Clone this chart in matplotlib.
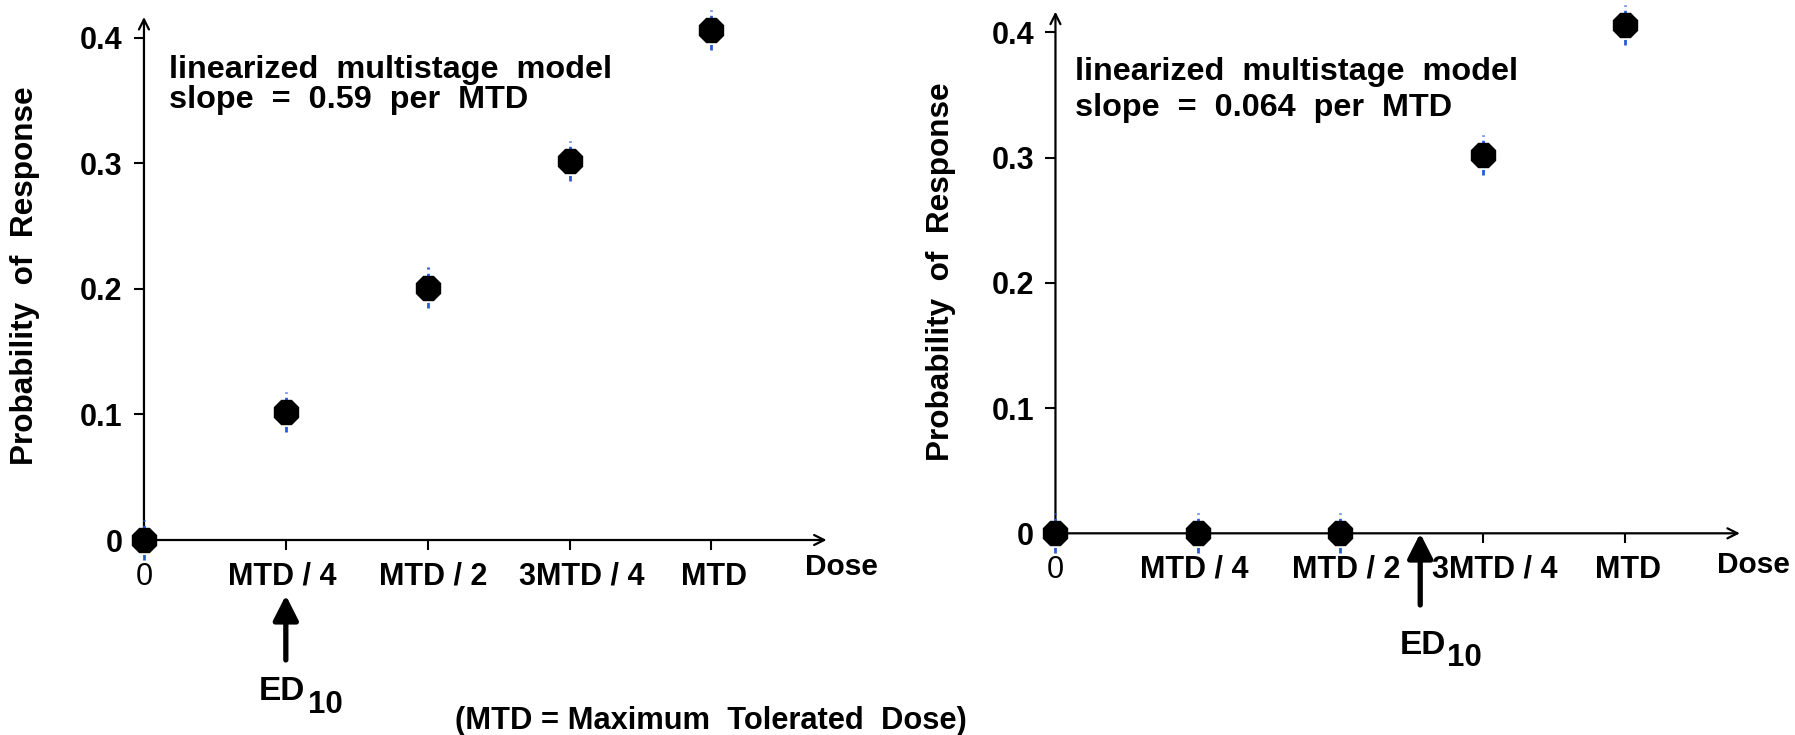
import numpy as np
import matplotlib
matplotlib.use("Agg")
from matplotlib import pyplot as plt

plt.rcParams['font.family'] = ['Liberation Sans', 'DejaVu Sans']

# data
dose = [0, 0.25, 0.5, 0.75, 1.0]
resp_left = [0.0, 0.102, 0.201, 0.302, 0.406]
resp_right = [0.0, 0.0, 0.0, 0.302, 0.406]
err = [0.016, 0.016, 0.016, 0.016, 0.016]
ed10_left = 0.25
ed10_right = 0.64

xtick_labels = ['0', 'MTD / 4', 'MTD / 2', '3MTD / 4', 'MTD']
# the dose labels are not exactly centred on their ticks (pixels)
xlabel_shift = [0, -4, 6, 12, 3]
yticks = [0, 0.1, 0.2, 0.3, 0.4]
ytick_labels = ['0', '0.1', '0.2', '0.3', '0.4']
notes_left = ['linearized  multistage  model', 'slope  =  0.59  per  MTD']
notes_right = ['linearized  multistage  model', 'slope  =  0.064  per  MTD']

W, H = 1795, 735
TICK_LEN, TICK_PAD = 7.5, 8


def px(x, y):
    return x / W, 1 - y / H


fig = plt.figure(figsize=(W / 100, H / 100), dpi=100)
ax1 = fig.add_axes([0.0802, 0.2653, 0.3803, 0.7116])
ax2 = fig.add_axes([0.5880, 0.2744, 0.3813, 0.7097])


def setup(ax, resp, xmax, ymax):
    ax.set_xlim(0, xmax)
    ax.set_ylim(0, ymax)
    for s in ax.spines.values():
        s.set_visible(False)
    # axis lines with open arrow heads
    ax.annotate('', xy=(1, 0), xytext=(0, 0), xycoords='axes fraction',
                arrowprops=dict(arrowstyle='->', lw=1.6, color='k',
                                mutation_scale=18, shrinkA=0, shrinkB=0))
    ax.annotate('', xy=(0, 1), xytext=(0, 0), xycoords='axes fraction',
                arrowprops=dict(arrowstyle='->', lw=1.6, color='k',
                                mutation_scale=18, shrinkA=0, shrinkB=0))
    ax.set_xticks(dose)
    ax.set_xticklabels([])
    for d, lab, dx in zip(dose, xtick_labels, xlabel_shift):
        ax.annotate(lab, xy=(d, 0), xycoords=('data', 'axes fraction'),
                    xytext=(dx * 0.72, -(TICK_LEN + TICK_PAD)),
                    textcoords='offset points', ha='center', va='top',
                    fontsize=22, fontweight='normal' if lab == '0' else 'bold',
                    annotation_clip=False)
    ax.set_yticks(yticks)
    ax.set_yticklabels(ytick_labels, fontsize=22, fontweight='bold')
    ax.tick_params(direction='out', length=TICK_LEN, width=1.5, pad=TICK_PAD)
    eb = ax.errorbar(dose, resp, yerr=err, fmt='none', ecolor='#2a5bd7',
                     elinewidth=2, clip_on=False, zorder=3)
    eb[2][0].set_linestyle((0, (2, 1.5)))
    eb[2][0].set_clip_on(False)
    ax.plot(dose, resp, linestyle='none', marker='8', markersize=18.5,
            color='k', clip_on=False, zorder=4)


setup(ax1, resp_left, 1.203, 0.4164)
setup(ax2, resp_right, 1.2009, 0.4164)

# ED10 arrows under the x axis
ax1.annotate('', xy=(ed10_left, -0.044), xytext=(ed10_left, -0.0955),
             xycoords='data', annotation_clip=False,
             arrowprops=dict(arrowstyle='-|>,head_width=0.38,head_length=0.75',
                             lw=3.8, color='k', mutation_scale=20,
                             shrinkA=0, shrinkB=0))
ax2.annotate('', xy=(ed10_right, 0.0), xytext=(ed10_right, -0.0572),
             xycoords='data', annotation_clip=False,
             arrowprops=dict(arrowstyle='-|>,head_width=0.38,head_length=0.75',
                             lw=3.8, color='k', mutation_scale=20,
                             shrinkA=0, shrinkB=0))

# ED10 labels
fig.text(*px(259, 700), 'ED', fontsize=24, fontweight='bold', va='baseline')
fig.text(*px(308, 713), '10', fontsize=22.5, fontweight='bold', va='baseline')
fig.text(*px(1400, 654), 'ED', fontsize=24, fontweight='bold', va='baseline')
fig.text(*px(1447, 666), '10', fontsize=22.5, fontweight='bold', va='baseline')

# model notes
fig.text(*px(169, 78), notes_left[0], fontsize=23.3, fontweight='bold', va='baseline')
fig.text(*px(169, 108), notes_left[1], fontsize=23.3, fontweight='bold', va='baseline')
fig.text(*px(1075, 80), notes_right[0], fontsize=23.3, fontweight='bold', va='baseline')
fig.text(*px(1075, 116), notes_right[1], fontsize=23.3, fontweight='bold', va='baseline')

# y labels
fig.text(*px(25, 276), 'Probability  of  Response', fontsize=22.7, fontweight='bold',
         rotation=90, ha='center', va='center')
fig.text(*px(941, 272), 'Probability  of  Response', fontsize=22.7, fontweight='bold',
         rotation=90, ha='center', va='center')

# Dose labels
fig.text(*px(805, 575), 'Dose', fontsize=21.5, fontweight='bold', va='baseline')
fig.text(*px(1717, 573), 'Dose', fontsize=21.5, fontweight='bold', va='baseline')

fig.text(*px(711, 729), '(MTD = Maximum  Tolerated  Dose)', fontsize=22.2,
         fontweight='bold', ha='center', va='baseline')

fig.savefig('out.png', dpi=100)
